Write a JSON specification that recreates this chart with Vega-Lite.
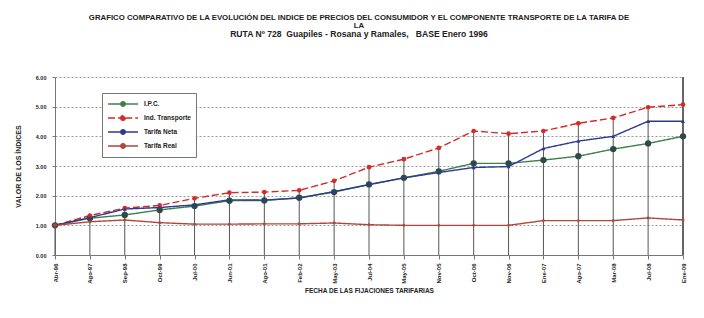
{
  "$schema": "https://vega.github.io/schema/vega-lite/v6.json",
  "autosize": "none",
  "width": 628,
  "height": 178,
  "padding": {"left": 55, "top": 77, "right": 21, "bottom": 63},
  "background": "white",
  "config": {
    "font": "Liberation Sans",
    "view": {"stroke": null},
    "axis": {"labelFont": "Liberation Sans", "titleFont": "Liberation Sans", "labelFontWeight": "bold", "titleFontWeight": "bold", "labelColor": "#222", "titleColor": "#222"},
    "legend": {
      "title": null, "orient": "none", "legendX": 47, "legendY": 16,
      "strokeColor": "#777", "fillColor": "white", "padding": 5,
      "labelFont": "Liberation Sans", "labelFontSize": 6.5, "labelFontWeight": "bold", "labelColor": "#222",
      "symbolType": "M-1,0H1.55M2.45,0H5M1.55,0A0.45,0.45,0,1,0,2.45,0A0.45,0.45,0,1,0,1.55,0",
      "symbolSize": 100, "symbolStrokeWidth": 1.4, "rowPadding": 2, "labelOffset": 25
    }
  },
  "title": {
    "text": ["GRAFICO COMPARATIVO DE LA EVOLUCIÓN DEL INDICE DE PRECIOS DEL CONSUMIDOR Y EL COMPONENTE TRANSPORTE DE LA TARIFA DE", "LA"],
    "subtitle": "RUTA Nº 728\u00a0\u00a0Guapiles - Rosana y Ramales,\u00a0\u00a0\u00a0BASE Enero 1996",
    "anchor": "middle",
    "offset": 36,
    "dx": -10,
    "font": "Liberation Sans",
    "fontSize": 7.8,
    "fontWeight": "bold",
    "lineHeight": 7.5,
    "color": "#222",
    "subtitleFont": "Liberation Sans",
    "subtitleFontSize": 8.6,
    "subtitleFontWeight": "bold",
    "subtitleColor": "#222",
    "subtitlePadding": 1
  },
  "data": {
    "values": [
      {"fecha": "Abr-96", "serie": "I.P.C.", "valor": 1.00},
      {"fecha": "Ago-97", "serie": "I.P.C.", "valor": 1.24},
      {"fecha": "Sep-98", "serie": "I.P.C.", "valor": 1.35},
      {"fecha": "Oct-99", "serie": "I.P.C.", "valor": 1.52},
      {"fecha": "Jul-00", "serie": "I.P.C.", "valor": 1.65},
      {"fecha": "Jun-01", "serie": "I.P.C.", "valor": 1.83},
      {"fecha": "Ago-01", "serie": "I.P.C.", "valor": 1.84},
      {"fecha": "Feb-02", "serie": "I.P.C.", "valor": 1.93},
      {"fecha": "May-03", "serie": "I.P.C.", "valor": 2.12},
      {"fecha": "Jul-04", "serie": "I.P.C.", "valor": 2.38},
      {"fecha": "May-05", "serie": "I.P.C.", "valor": 2.60},
      {"fecha": "Nov-05", "serie": "I.P.C.", "valor": 2.82},
      {"fecha": "Oct-06", "serie": "I.P.C.", "valor": 3.09},
      {"fecha": "Nov-06", "serie": "I.P.C.", "valor": 3.09},
      {"fecha": "Ene-07", "serie": "I.P.C.", "valor": 3.20},
      {"fecha": "Ago-07", "serie": "I.P.C.", "valor": 3.33},
      {"fecha": "Mar-08", "serie": "I.P.C.", "valor": 3.57},
      {"fecha": "Jul-08", "serie": "I.P.C.", "valor": 3.76},
      {"fecha": "Ene-09", "serie": "I.P.C.", "valor": 4.00},
      {"fecha": "Abr-96", "serie": "Ind. Transporte", "valor": 1.00},
      {"fecha": "Ago-97", "serie": "Ind. Transporte", "valor": 1.33},
      {"fecha": "Sep-98", "serie": "Ind. Transporte", "valor": 1.58},
      {"fecha": "Oct-99", "serie": "Ind. Transporte", "valor": 1.67},
      {"fecha": "Jul-00", "serie": "Ind. Transporte", "valor": 1.91},
      {"fecha": "Jun-01", "serie": "Ind. Transporte", "valor": 2.10},
      {"fecha": "Ago-01", "serie": "Ind. Transporte", "valor": 2.12},
      {"fecha": "Feb-02", "serie": "Ind. Transporte", "valor": 2.18},
      {"fecha": "May-03", "serie": "Ind. Transporte", "valor": 2.50},
      {"fecha": "Jul-04", "serie": "Ind. Transporte", "valor": 2.96},
      {"fecha": "May-05", "serie": "Ind. Transporte", "valor": 3.23},
      {"fecha": "Nov-05", "serie": "Ind. Transporte", "valor": 3.61},
      {"fecha": "Oct-06", "serie": "Ind. Transporte", "valor": 4.18},
      {"fecha": "Nov-06", "serie": "Ind. Transporte", "valor": 4.09},
      {"fecha": "Ene-07", "serie": "Ind. Transporte", "valor": 4.18},
      {"fecha": "Ago-07", "serie": "Ind. Transporte", "valor": 4.44},
      {"fecha": "Mar-08", "serie": "Ind. Transporte", "valor": 4.62},
      {"fecha": "Jul-08", "serie": "Ind. Transporte", "valor": 4.98},
      {"fecha": "Ene-09", "serie": "Ind. Transporte", "valor": 5.07},
      {"fecha": "Abr-96", "serie": "Tarifa Neta", "valor": 1.00},
      {"fecha": "Ago-97", "serie": "Tarifa Neta", "valor": 1.26},
      {"fecha": "Sep-98", "serie": "Tarifa Neta", "valor": 1.55},
      {"fecha": "Oct-99", "serie": "Tarifa Neta", "valor": 1.60},
      {"fecha": "Jul-00", "serie": "Tarifa Neta", "valor": 1.69},
      {"fecha": "Jun-01", "serie": "Tarifa Neta", "valor": 1.86},
      {"fecha": "Ago-01", "serie": "Tarifa Neta", "valor": 1.85},
      {"fecha": "Feb-02", "serie": "Tarifa Neta", "valor": 1.92},
      {"fecha": "May-03", "serie": "Tarifa Neta", "valor": 2.14},
      {"fecha": "Jul-04", "serie": "Tarifa Neta", "valor": 2.37},
      {"fecha": "May-05", "serie": "Tarifa Neta", "valor": 2.60},
      {"fecha": "Nov-05", "serie": "Tarifa Neta", "valor": 2.78},
      {"fecha": "Oct-06", "serie": "Tarifa Neta", "valor": 2.95},
      {"fecha": "Nov-06", "serie": "Tarifa Neta", "valor": 2.98},
      {"fecha": "Ene-07", "serie": "Tarifa Neta", "valor": 3.59},
      {"fecha": "Ago-07", "serie": "Tarifa Neta", "valor": 3.84},
      {"fecha": "Mar-08", "serie": "Tarifa Neta", "valor": 4.00},
      {"fecha": "Jul-08", "serie": "Tarifa Neta", "valor": 4.51},
      {"fecha": "Ene-09", "serie": "Tarifa Neta", "valor": 4.51},
      {"fecha": "Abr-96", "serie": "Tarifa Real", "valor": 1.00},
      {"fecha": "Ago-97", "serie": "Tarifa Real", "valor": 1.12},
      {"fecha": "Sep-98", "serie": "Tarifa Real", "valor": 1.18},
      {"fecha": "Oct-99", "serie": "Tarifa Real", "valor": 1.09},
      {"fecha": "Jul-00", "serie": "Tarifa Real", "valor": 1.04},
      {"fecha": "Jun-01", "serie": "Tarifa Real", "valor": 1.04},
      {"fecha": "Ago-01", "serie": "Tarifa Real", "valor": 1.05},
      {"fecha": "Feb-02", "serie": "Tarifa Real", "valor": 1.05},
      {"fecha": "May-03", "serie": "Tarifa Real", "valor": 1.08},
      {"fecha": "Jul-04", "serie": "Tarifa Real", "valor": 1.02},
      {"fecha": "May-05", "serie": "Tarifa Real", "valor": 1.00},
      {"fecha": "Nov-05", "serie": "Tarifa Real", "valor": 1.00},
      {"fecha": "Oct-06", "serie": "Tarifa Real", "valor": 1.00},
      {"fecha": "Nov-06", "serie": "Tarifa Real", "valor": 1.00},
      {"fecha": "Ene-07", "serie": "Tarifa Real", "valor": 1.16},
      {"fecha": "Ago-07", "serie": "Tarifa Real", "valor": 1.16},
      {"fecha": "Mar-08", "serie": "Tarifa Real", "valor": 1.16},
      {"fecha": "Jul-08", "serie": "Tarifa Real", "valor": 1.25},
      {"fecha": "Ene-09", "serie": "Tarifa Real", "valor": 1.18}
    ]
  },
  "encoding": {
    "x": {
      "field": "fecha", "type": "ordinal", "sort": null,
      "scale": {"type": "point", "padding": 0},
      "axis": {
        "title": "FECHA DE LAS FIJACIONES TARIFARIAS",
        "titleFontSize": 6.5, "titlePadding": 4,
        "labelAngle": 270, "labelFontSize": 6, "labelPadding": 4,
        "domainColor": "#777", "tickColor": "#777", "tickSize": 4, "grid": false
      }
    },
    "y": {
      "field": "valor", "type": "quantitative",
      "scale": {"domain": [0, 6], "nice": false, "zero": true},
      "axis": {
        "title": "VALOR DE LOS ÍNDICES",
        "titleFontSize": 7, "titlePadding": 14,
        "values": [0, 1, 2, 3, 4, 5, 6], "format": ".2f",
        "labelFontSize": 5.5, "labelPadding": 6,
        "domainColor": "#777", "tickColor": "#777", "tickSize": 3,
        "grid": true, "gridColor": "#999", "gridDash": [2, 2], "gridWidth": 1
      }
    }
  },
  "layer": [
    {
      "transform": [{"filter": "datum.serie === 'Ind. Transporte'"}],
      "mark": {"type": "rule", "color": "#555", "strokeWidth": 1},
      "encoding": {"y2": {"datum": 0}}
    },
    {
      "mark": {"type": "rule", "color": "#666", "strokeWidth": 1},
      "encoding": {"x": {"datum": "Ene-09"}, "y": {"datum": 0}, "y2": {"datum": 6}}
    },
    {
      "mark": {"type": "line", "strokeWidth": 1.4},
      "encoding": {
        "stroke": {
          "field": "serie", "type": "nominal",
          "scale": {"domain": ["I.P.C.", "Ind. Transporte", "Tarifa Neta", "Tarifa Real"], "range": ["#3f7f4a", "#d42a2a", "#2b3a92", "#b0473a"]},
          "legend": {"encode": {"symbols": {"update": {"fill": {"scale": "stroke", "field": "value"}}}}}
        },
        "strokeDash": {
          "field": "serie", "type": "nominal",
          "scale": {"domain": ["I.P.C.", "Ind. Transporte", "Tarifa Neta", "Tarifa Real"], "range": [[1, 0], [7, 3], [1, 0], [1, 0]]},
          "legend": {"encode": {"symbols": {"update": {"fill": {"scale": "stroke", "field": "value"}}}}}
        }
      }
    },
    {
      "transform": [{"filter": "datum.serie === 'I.P.C.'"}],
      "mark": {"type": "point", "filled": true, "opacity": 1, "shape": "circle", "size": 40, "color": "#2c4a48"}
    },
    {
      "transform": [{"filter": "datum.serie === 'Ind. Transporte'"}],
      "mark": {"type": "point", "filled": true, "opacity": 1, "shape": "circle", "size": 22, "color": "#d42a2a"}
    },
    {
      "transform": [{"filter": "datum.serie === 'Tarifa Neta'"}],
      "mark": {"type": "point", "filled": true, "opacity": 1, "shape": "triangle-up", "size": 16, "color": "#2b3a92"}
    },
    {
      "transform": [{"filter": "datum.serie === 'Tarifa Real'"}],
      "mark": {"type": "point", "filled": true, "opacity": 1, "shape": "diamond", "size": 14, "color": "#b0473a"}
    }
  ]
}
